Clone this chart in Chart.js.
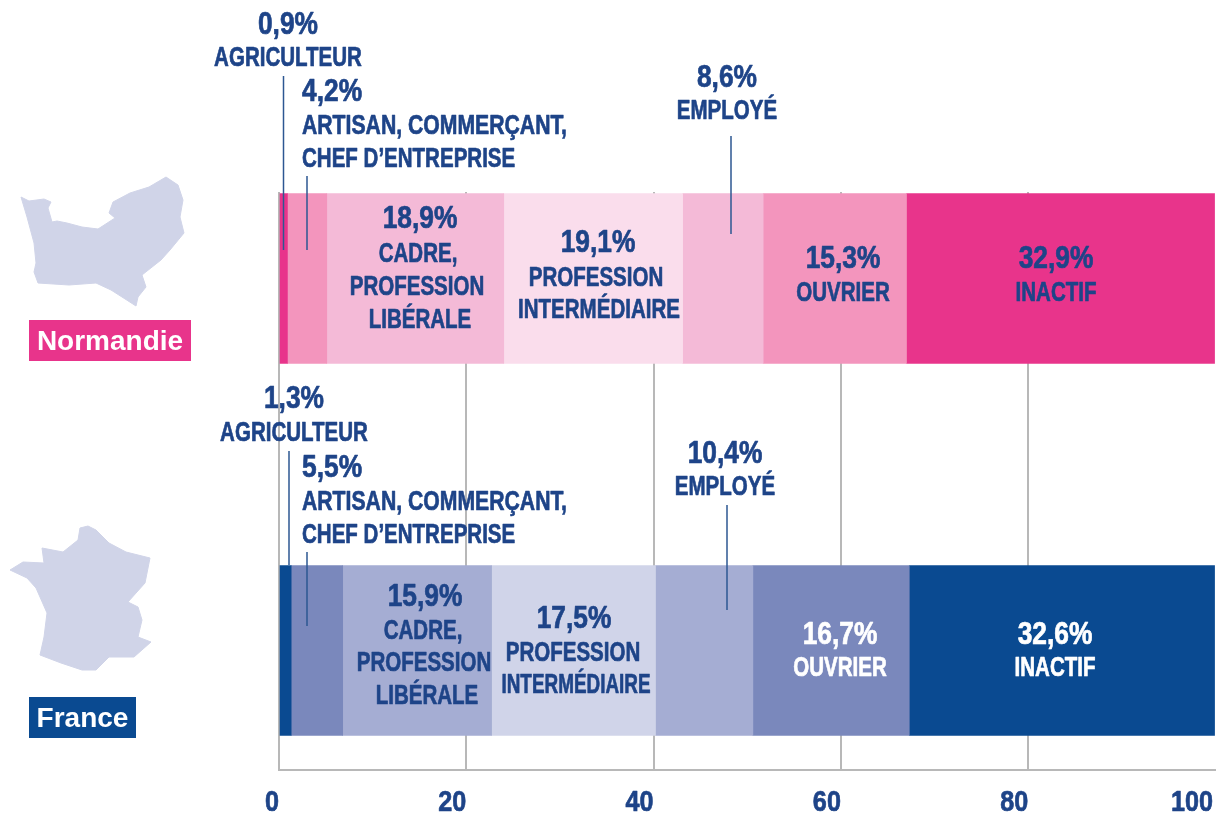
<!DOCTYPE html>
<html lang="fr">
<head>
<meta charset="utf-8">
<style>html,body{margin:0;padding:0;background:#fff}#w{width:1216px;height:816px;position:relative}</style>
<script src="https://cdn.jsdelivr.net/npm/chart.js@4"></script>
</head>
<body>
<div id="w"><canvas id="c" width="1216" height="816"></canvas></div>
<script>
const regions = ['Normandie', 'France'];
const categories = ['Agriculteur', 'Artisan, commerçant, chef d’entreprise', 'Cadre, profession libérale', 'Profession intermédiaire', 'Employé', 'Ouvrier', 'Inactif'];
const normandie = [0.9, 4.2, 18.9, 19.1, 8.6, 15.3, 32.9];
const france = [1.3, 5.5, 15.9, 17.5, 10.4, 16.7, 32.6];
const tickValues = [0, 20, 40, 60, 80, 100];
const pinks = ['#E8348B', '#F395BD', '#F4BAD7', '#FADDEC', '#F4BAD7', '#F395BD', '#E8348B'];
const blues = ['#0A4A91', '#7A88BC', '#A5ADD3', '#D0D4E9', '#A5ADD3', '#7A88BC', '#0A4A91'];

const NAVY = '#1E4488', LEAD = '#2C5792', MAP = '#D0D4E8';
const FONT = '"Liberation Sans",sans-serif';
const PCT = 0.85, LAB = 0.76;

// text lines: [text, x, y, size, align, colour, width scale]
const annotations = [
 ['0,9%',288,24,31,'center'],['AGRICULTEUR',288,58,27,'center'],
 ['4,2%',302,91,31,'left'],['ARTISAN, COMMERÇANT,',302,126,27,'left',null,0.785],['CHEF D’ENTREPRISE',302,159,27,'left'],
 ['18,9%',420,218,31,'center'],['CADRE,',418,254,27,'center'],['PROFESSION',417,287,27,'center'],['LIBÉRALE',420,320,27,'center'],
 ['19,1%',598,242,31,'center'],['PROFESSION',596,278,27,'center'],['INTERMÉDIAIRE',599,310,27,'center'],
 ['8,6%',727,77,31,'center'],['EMPLOYÉ',727,111,27,'center'],
 ['15,3%',843,258,31,'center'],['OUVRIER',843,293,27,'center'],
 ['32,9%',1056,258,31,'center'],['INACTIF',1056,293,27,'center'],
 ['1,3%',294,398,31,'center'],['AGRICULTEUR',294,433,27,'center'],
 ['5,5%',302,467,31,'left'],['ARTISAN, COMMERÇANT,',302,502,27,'left',null,0.785],['CHEF D’ENTREPRISE',302,535,27,'left'],
 ['15,9%',425,596,31,'center'],['CADRE,',423,631,27,'center'],['PROFESSION',424,663,27,'center'],['LIBÉRALE',427,696,27,'center'],
 ['17,5%',574,618,31,'center'],['PROFESSION',573,653,27,'center'],['INTERMÉDIAIRE',576,685,27,'center',null,0.70],
 ['10,4%',725,453,31,'center'],['EMPLOYÉ',725,487,27,'center'],
 ['16,7%',840,634,31,'center','#fff'],['OUVRIER',840,668,27,'center','#fff'],
 ['32,6%',1055,634,31,'center','#fff'],['INACTIF',1055,668,27,'center','#fff']
];
const leaders = [[283.5,76,250],[307,176,250],[731,136,234],[289,451,565],[307,552,626],[727,505,610]];
const normandieShape = [[21,197],[29,201],[44,199],[51,202],[48,208],[52,222],[57,221],[67,223],[82,227],[98,229],[115,218],[109,213],[113,202],[130,193],[149,187],[166,177],[178,185],[183,200],[180,217],[184,233],[170,250],[161,260],[142,275],[146,287],[138,297],[136,306],[122,297],[111,290],[96,283],[69,285],[38,283],[34,272],[36,263],[34,243],[27,217]];
const franceShape = [[88,526],[96,530],[109,543],[126,552],[150,558],[145,583],[128,602],[138,607],[142,620],[138,637],[151,642],[134,657],[109,657],[96,670],[82,670],[61,663],[40,655],[44,637],[47,613],[36,588],[27,578],[10,570],[23,562],[44,563],[42,548],[63,552],[78,540],[80,528]];
const tags = [['Normandie',29,320,162,41,'#E8348B'],['France',29,697,107,41,'#0A4A91']];

function narrowText(ctx, text, x, y, size, align, color, sx) {
  ctx.save();
  ctx.translate(x, y);
  ctx.scale(sx, 1);
  ctx.font = 'bold ' + size + 'px ' + FONT;
  ctx.textAlign = align;
  ctx.textBaseline = 'middle';
  ctx.fillStyle = color;
  ctx.strokeStyle = color;
  ctx.lineWidth = 0.7;
  ctx.lineJoin = 'round';
  ctx.fillText(text, 0, 0);
  ctx.strokeText(text, 0, 0);
  ctx.restore();
}

const decor = {
  id: 'decor',
  afterDatasetsDraw(chart) {
    const ctx = chart.ctx;
    ctx.save();
    ctx.fillStyle = MAP;
    ctx.strokeStyle = MAP;
    ctx.lineWidth = 1;
    ctx.lineJoin = 'round';
    [normandieShape, franceShape].forEach(s => {
      ctx.beginPath();
      s.forEach((p, i) => i ? ctx.lineTo(p[0], p[1]) : ctx.moveTo(p[0], p[1]));
      ctx.closePath();
      ctx.fill();
      ctx.stroke();
    });
    ctx.strokeStyle = LEAD;
    ctx.lineWidth = 1.5;
    leaders.forEach(l => {
      ctx.beginPath(); ctx.moveTo(l[0], l[1]); ctx.lineTo(l[0], l[2]); ctx.stroke();
    });
    ctx.textBaseline = 'middle';
    tags.forEach(t => {
      ctx.fillStyle = t[5];
      ctx.fillRect(t[1], t[2], t[3], t[4]);
      ctx.fillStyle = '#fff';
      ctx.textAlign = 'center';
      ctx.font = 'bold 28px "Liberation Sans",sans-serif';
      ctx.fillText(t[0], t[1] + t[3] / 2, t[2] + t[4] / 2 + 2);
    });
    annotations.forEach(a => {
      const sx = a[6] || (a[3] === 31 ? PCT : LAB);
      narrowText(ctx, a[0], a[1], a[2] + 1, a[3], a[4], a[5] || NAVY, sx);
    });
    // axis numbers, right-aligned on their gridlines
    const xs = chart.scales.x;
    tickValues.forEach(v => {
      narrowText(ctx, String(v), Math.min(xs.getPixelForValue(v), 1213), 803, 30, 'right', NAVY, 0.84);
    });
    ctx.restore();
  }
};

const rows = regions.map((_, i) => i);
new Chart(document.getElementById('c'), {
  type: 'bar',
  data: {
    datasets: categories.map((name, k) => ({
      label: name,
      data: rows.map(r => ({ x: [normandie, france][r][k], y: r })),
      backgroundColor: [pinks[k], blues[k]],
      borderWidth: 0,
      barThickness: 170
    }))
  },
  options: {
    indexAxis: 'y',
    responsive: false,
    animation: false,
    layout: { padding: { left: 279, right: 0.5, top: 192, bottom: 0 } },
    plugins: { legend: { display: false }, tooltip: { enabled: false } },
    scales: {
      x: {
        type: 'linear', stacked: true, min: 0, max: 100,
        afterFit(s) { s.height = 46; s.paddingLeft = 0; s.paddingRight = 0; },
        afterBuildTicks(s) { s.ticks = tickValues.map(v => ({ value: v })); },
        grid: {
          drawTicks: false, lineWidth: 2,
          color: c => (c.tick && c.tick.value === 100) ? 'rgba(0,0,0,0)' : '#B8B8B8'
        },
        border: { display: true, color: '#B8B8B8', width: 2 },
        ticks: { display: false }
      },
      y: {
        type: 'linear', reverse: true, offset: false, min: -0.2325, max: 1.3212, display: true,
        stacked: true,
        grid: { display: false, offset: false }, border: { display: false },
        ticks: { display: false },
        afterFit(s) { s.width = 0; }
      }
    }
  },
  plugins: [decor]
});
</script>
</body>
</html>
